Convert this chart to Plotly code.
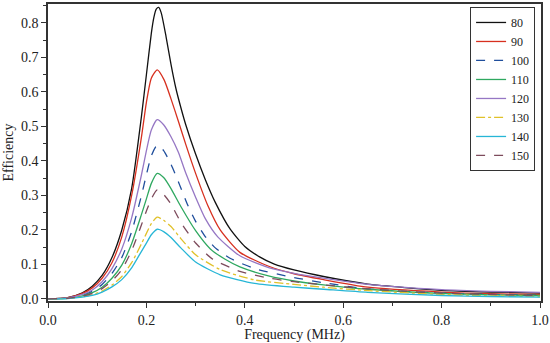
import plotly.graph_objects as go

labels = ["80", "90", "100", "110", "120", "130", "140", "150"]

freq_80 = [0, 0.04, 0.07, 0.09, 0.11, 0.13, 0.15, 0.17, 0.19, 0.20, 0.21, 0.215, 0.22, 0.225, 0.23, 0.24, 0.25, 0.26, 0.27, 0.28, 0.30, 0.32, 0.34, 0.37, 0.40, 0.43, 0.46, 0.50, 0.56, 0.65, 0.80, 0.90, 1.0]
eff_80 = [0, 0.004, 0.018, 0.037, 0.068, 0.12, 0.20, 0.32, 0.53, 0.65, 0.77, 0.815, 0.84, 0.845, 0.83, 0.76, 0.68, 0.61, 0.555, 0.505, 0.42, 0.345, 0.28, 0.203, 0.152, 0.122, 0.101, 0.084, 0.065, 0.043, 0.025, 0.02, 0.017]

freq_90 = [0, 0.04, 0.07, 0.09, 0.11, 0.13, 0.15, 0.17, 0.19, 0.20, 0.21, 0.222, 0.236, 0.25, 0.265, 0.28, 0.30, 0.325, 0.35, 0.39, 0.45, 0.50, 0.56, 0.65, 0.80, 0.90, 1.0]
eff_90 = [0, 0.004, 0.016, 0.032, 0.06, 0.105, 0.18, 0.30, 0.47, 0.57, 0.64, 0.664, 0.635, 0.58, 0.515, 0.448, 0.364, 0.27, 0.20, 0.135, 0.094, 0.073, 0.056, 0.034, 0.02, 0.015, 0.013]

freq_100 = [0, 0.04, 0.07, 0.09, 0.11, 0.13, 0.15, 0.17, 0.19, 0.20, 0.21, 0.222, 0.235, 0.25, 0.265, 0.283, 0.30, 0.32, 0.34, 0.37, 0.42, 0.50, 0.56, 0.65, 0.80, 0.90, 1.0]
eff_100 = [0, 0.003, 0.011, 0.022, 0.042, 0.074, 0.12, 0.195, 0.30, 0.36, 0.415, 0.446, 0.43, 0.39, 0.34, 0.275, 0.225, 0.18, 0.148, 0.118, 0.088, 0.062, 0.047, 0.029, 0.017, 0.013, 0.011]

freq_110 = [0, 0.04, 0.07, 0.09, 0.11, 0.13, 0.15, 0.17, 0.19, 0.20, 0.21, 0.222, 0.235, 0.25, 0.27, 0.30, 0.33, 0.36, 0.39, 0.45, 0.50, 0.56, 0.65, 0.80, 0.90, 1.0]
eff_110 = [0, 0.002, 0.009, 0.018, 0.034, 0.06, 0.098, 0.16, 0.245, 0.29, 0.335, 0.364, 0.352, 0.32, 0.268, 0.198, 0.145, 0.115, 0.093, 0.066, 0.052, 0.041, 0.028, 0.016, 0.012, 0.01]

freq_120 = [0, 0.04, 0.07, 0.09, 0.11, 0.13, 0.15, 0.17, 0.19, 0.20, 0.21, 0.222, 0.235, 0.25, 0.265, 0.28, 0.30, 0.32, 0.345, 0.39, 0.45, 0.50, 0.56, 0.65, 0.80, 0.90, 1.0]
eff_120 = [0, 0.003, 0.013, 0.026, 0.05, 0.088, 0.145, 0.235, 0.36, 0.43, 0.49, 0.52, 0.505, 0.47, 0.425, 0.365, 0.295, 0.232, 0.18, 0.125, 0.09, 0.074, 0.06, 0.042, 0.027, 0.022, 0.019]

freq_130 = [0, 0.04, 0.07, 0.09, 0.11, 0.13, 0.15, 0.17, 0.19, 0.20, 0.21, 0.222, 0.235, 0.25, 0.27, 0.30, 0.35, 0.42, 0.50, 0.56, 0.65, 0.80, 0.90, 1.0]
eff_130 = [0, 0.0015, 0.006, 0.012, 0.023, 0.04, 0.065, 0.105, 0.16, 0.19, 0.218, 0.237, 0.228, 0.21, 0.175, 0.128, 0.085, 0.055, 0.042, 0.034, 0.024, 0.013, 0.009, 0.007]

freq_140 = [0, 0.04, 0.07, 0.09, 0.11, 0.13, 0.15, 0.17, 0.19, 0.20, 0.21, 0.222, 0.235, 0.25, 0.27, 0.30, 0.35, 0.42, 0.50, 0.56, 0.65, 0.80, 0.90, 1.0]
eff_140 = [0, 0.001, 0.005, 0.01, 0.02, 0.035, 0.056, 0.09, 0.138, 0.162, 0.186, 0.202, 0.195, 0.178, 0.148, 0.107, 0.07, 0.045, 0.034, 0.028, 0.019, 0.01, 0.007, 0.005]

freq_150 = [0, 0.04, 0.07, 0.09, 0.11, 0.13, 0.15, 0.17, 0.19, 0.20, 0.21, 0.222, 0.235, 0.25, 0.27, 0.30, 0.335, 0.39, 0.45, 0.50, 0.56, 0.65, 0.80, 0.90, 1.0]
eff_150 = [0, 0.002, 0.008, 0.016, 0.03, 0.052, 0.085, 0.14, 0.215, 0.255, 0.29, 0.316, 0.303, 0.275, 0.222, 0.162, 0.115, 0.08, 0.06, 0.05, 0.041, 0.029, 0.017, 0.013, 0.01]

series = [
    ("80", freq_80, eff_80, "#111111", "solid"),
    ("90", freq_90, eff_90, "#d7301f", "solid"),
    ("100", freq_100, eff_100, "#1f4e9c", "dash"),
    ("110", freq_110, eff_110, "#2fa860", "solid"),
    ("120", freq_120, eff_120, "#9677c4", "solid"),
    ("130", freq_130, eff_130, "#e0c12a", "dashdot"),
    ("140", freq_140, eff_140, "#27b6d6", "solid"),
    ("150", freq_150, eff_150, "#7d4b5c", "dash"),
]

x_ticks = [0.0, 0.2, 0.4, 0.6, 0.8, 1.0]
y_ticks = [0.0, 0.1, 0.2, 0.3, 0.4, 0.5, 0.6, 0.7, 0.8]

FONT = "Liberation Serif, Times New Roman, serif"

fig = go.Figure()
for name, xs, ys, color, dash in series:
    fig.add_trace(go.Scatter(
        x=xs, y=ys, name=name, mode="lines",
        line=dict(color=color, width=1.3, dash=dash, shape="spline", smoothing=0.6),
    ))

axis_common = dict(
    showline=True, linecolor="#333333", linewidth=1.5, mirror=True,
    ticks="outside", ticklen=5, tickwidth=1.2, tickcolor="#333333",
    showgrid=False, zeroline=False, automargin=False,
    ticklabeloverflow="allow",
    tickfont=dict(family=FONT, size=14, color="#222222"),
)

fig.update_xaxes(
    range=[0, 1.002], tickvals=x_ticks, tickformat=".1f",
    minor=dict(ticks="outside", ticklen=3, tickcolor="#333333", dtick=0.1, tick0=0),
    title=dict(text="Frequency (MHz)", font=dict(family=FONT, size=14, color="#222222"), standoff=4),
    **axis_common,
)
fig.update_yaxes(
    range=[-0.006, 0.855], tickvals=y_ticks, tickformat=".1f",
    minor=dict(ticks="outside", ticklen=3, tickcolor="#333333", dtick=0.05, tick0=0),
    title=dict(text="Efficiency", font=dict(family=FONT, size=14, color="#222222"), standoff=4),
    **axis_common,
)

fig.update_layout(
    width=550, height=343,
    margin=dict(l=48, r=9, t=4, b=42),
    paper_bgcolor="white", plot_bgcolor="white",
    showlegend=True,
    legend=dict(
        x=0.988, y=0.99, xanchor="right", yanchor="top",
        bgcolor="white", bordercolor="#333333", borderwidth=1,
        font=dict(family=FONT, size=12, color="#222222"),
        itemwidth=30, tracegroupgap=0,
    ),
)

fig.write_html(
    "out.html",
    config={"displayModeBar": False},
    post_script="document.body.style.margin='0';document.body.style.padding='0';",
)
